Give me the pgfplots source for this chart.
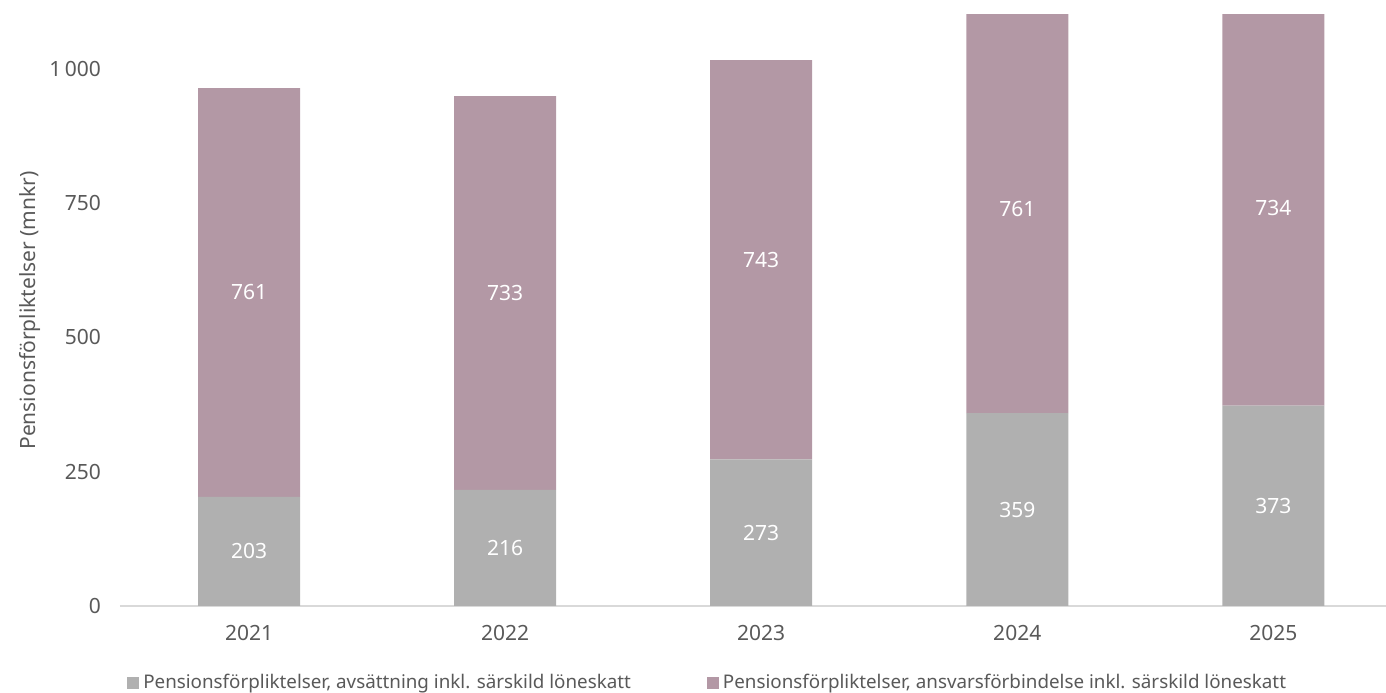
\documentclass[border=0pt]{standalone}
\usepackage{pgfplots}
\pgfplotsset{compat=1.18}
\usepackage{fontspec}
\setmainfont{Noto Sans}
\usetikzlibrary{calc}
\definecolor{avs}{HTML}{B0B0B0}
\definecolor{ansv}{HTML}{B398A5}
\definecolor{txt}{HTML}{595959}
\definecolor{axl}{HTML}{D9D9D9}
\newcommand{\tf}{\fontsize{10.5}{12}\selectfont}
\begin{document}
\begin{tikzpicture}
\pgfplotsset{base/.style={
    scale only axis, width=633pt, height=295.5pt,
    xmin=-0.504, xmax=4.44, ymin=0, ymax=1100}}
\begin{axis}[base, name=ax,
    ybar stacked, bar width=51pt,
    axis lines*=left,
    x axis line style={axl, line width=0.6pt},
    y axis line style={draw=none},
    tick style={draw=none},
    xtick={0,1,2,3,4},
    xticklabels={2021,2022,2023,2024,2025},
    ytick={0,250,500,750,1000},
    /pgf/number format/1000 sep={\,},
    /pgf/number format/assume math mode=true,
    ticklabel style={font=\tf, text=txt},
    yticklabel style={xshift=-6pt},
    xticklabel style={yshift=-6pt},
    ylabel={Pensionsförpliktelser (mnkr)},
    ylabel style={font=\tf, text=txt, at={(rel axis cs:0,0.5)}, anchor=center, yshift=45pt},
    legend style={at={(0.465,-0.1303)}, anchor=center, draw=none,
        font=\fontsize{9.4}{10}\selectfont, text=txt,
        legend columns=2,
        /tikz/every even column/.append style={column sep=36pt}},
    legend cell align=left,
    legend image code/.code={\fill[#1] (0pt,-3pt) rectangle (6pt,3pt);},
]
\addplot[fill=avs, draw=none] coordinates {(0,203) (1,216) (2,273) (3,359) (4,373)};
\addplot[fill=ansv, draw=none] coordinates {(0,761) (1,733) (2,743) (3,761) (4,734)};
\legend{{Pensionsförpliktelser, avsättning inkl. särskild löneskatt},
        {Pensionsförpliktelser, ansvarsförbindelse inkl. särskild löneskatt}}
\end{axis}
\begin{axis}[base, hide axis,
    point meta=explicit symbolic,
    nodes near coords,
    every node near coord/.append style={anchor=center, text=white, font=\tf}]
\addplot[draw=none, mark=none] coordinates {
    (0,101.5)[203] (1,108)[216] (2,136.5)[273] (3,179.5)[359] (4,186.5)[373]};
\addplot[draw=none, mark=none] coordinates {
    (0,583.5)[761] (1,582.5)[733] (2,644.5)[743] (3,739.5)[761] (4,740)[734]};
\end{axis}
\pgfresetboundingbox
\path[use as bounding box] ($(ax.south west)+(-60pt,-43.5pt)$) rectangle ($(ax.north east)+(0pt,7.5pt)$);
\end{tikzpicture}
\end{document}
